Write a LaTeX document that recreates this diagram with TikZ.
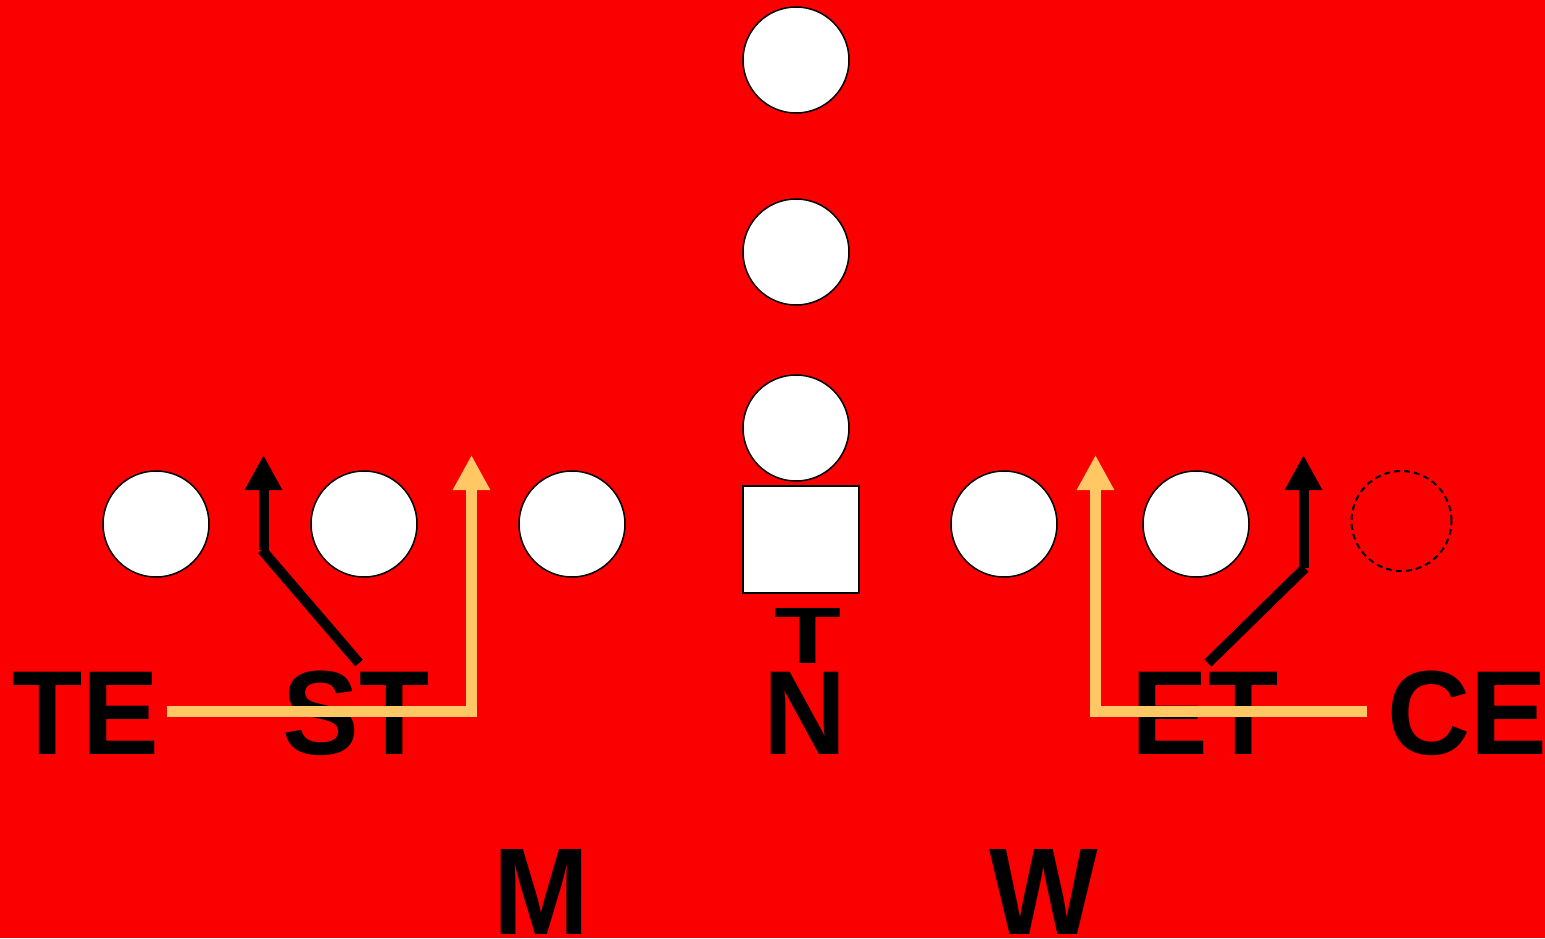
\documentclass[tikz,border=0pt]{standalone}
\usepackage{fontspec}
\setmainfont{Liberation Sans}
\usetikzlibrary{arrows.meta}
\definecolor{bg}{RGB}{250,0,0}
\definecolor{route}{RGB}{255,200,100}
\newcommand{\rowlbl}[1]{\scalebox{1}[1.04]{#1}}
\newcommand{\lblow}[1]{\scalebox{1}[1.075]{#1}}
\begin{document}
\begin{tikzpicture}[x=1pt,y=-1pt,
  player/.style={circle,draw=black,fill=white,line width=1.5pt,minimum size=106pt,inner sep=0pt},
  ghost/.style={circle,draw=black,dash pattern=on 6pt off 4pt,line width=2pt,minimum size=100pt,inner sep=0pt},
  ctr/.style={rectangle,draw=black,fill=white,line width=2pt,minimum width=116pt,minimum height=107pt,inner sep=0pt},
  lbl/.style={font=\fontsize{115}{115}\selectfont\bfseries,inner sep=0pt,anchor=base},
  blk/.style={line width=10pt,draw=black},
  blkarrow/.style={blk,-{Triangle[width=35pt,length=35pt]}},
  yel/.style={line width=11pt,draw=route,line join=miter},
  yelarrow/.style={yel,-{Triangle[width=35pt,length=35pt]}}
]
\useasboundingbox (0,0) rectangle (1545,938);
\fill[bg] (0,0) rectangle (1545,938);

% backs and linemen
\node[player] (b1) at (796,60) {};
\node[player] (b2) at (796,252) {};
\node[player] (b3) at (796,428) {};
\node[player] (l1) at (156,524) {};
\node[player] (l2) at (364,524) {};
\node[player] (l3) at (572,524) {};
\node[ctr] (c) at (801,539.5) {};
\node[player] (l4) at (1004,524) {};
\node[player] (l5) at (1196,524) {};
\node[ghost] (g) at (1401.5,521) {};

% defensive labels
\node[lbl] (te) at (86,754) {\rowlbl{TE}};
\node[lbl] (st) at (356,754) {\rowlbl{ST}};
\node[lbl] (n) at (805,754) {\rowlbl{N}};
\node[lbl] (et) at (1205,754) {\rowlbl{ET}};
\node[lbl] (ce) at (1467.5,754) {\rowlbl{CE}};
\node[lbl] (m) at (541.5,934) {\lblow{M}};
\node[lbl] (w) at (1044,934) {\lblow{W}};
\node[font=\fontsize{80}{80}\selectfont\bfseries,inner sep=0pt,anchor=base] (t) at (807.6,663) {\scalebox{1.37}[1]{T}};

% route coordinates
\coordinate (stA) at (359,663);
\coordinate (stB) at (262,550);
\coordinate (stC) at (263.5,550);
\coordinate (stTip) at (263.5,455);
\coordinate (teA) at (167,711);
\coordinate (teB) at (471.5,711);
\coordinate (teTip) at (471.5,455);
\coordinate (etA) at (1208,663);
\coordinate (etB) at (1305,568);
\coordinate (etC) at (1303.5,568);
\coordinate (etTip) at (1303.5,455);
\coordinate (ceA) at (1367,711);
\coordinate (ceB) at (1095.5,711);
\coordinate (ceTip) at (1095.5,455);

% routes
\draw[blk] (stA) -- (stB);
\draw[blkarrow] (stC) -- (stTip);
\draw[yelarrow] (teA) -- (teB) -- (teTip);
\draw[blk] (etA) -- (etB);
\draw[blkarrow] (etC) -- (etTip);
\draw[yelarrow] (ceA) -- (ceB) -- (ceTip);
\end{tikzpicture}
\end{document}
